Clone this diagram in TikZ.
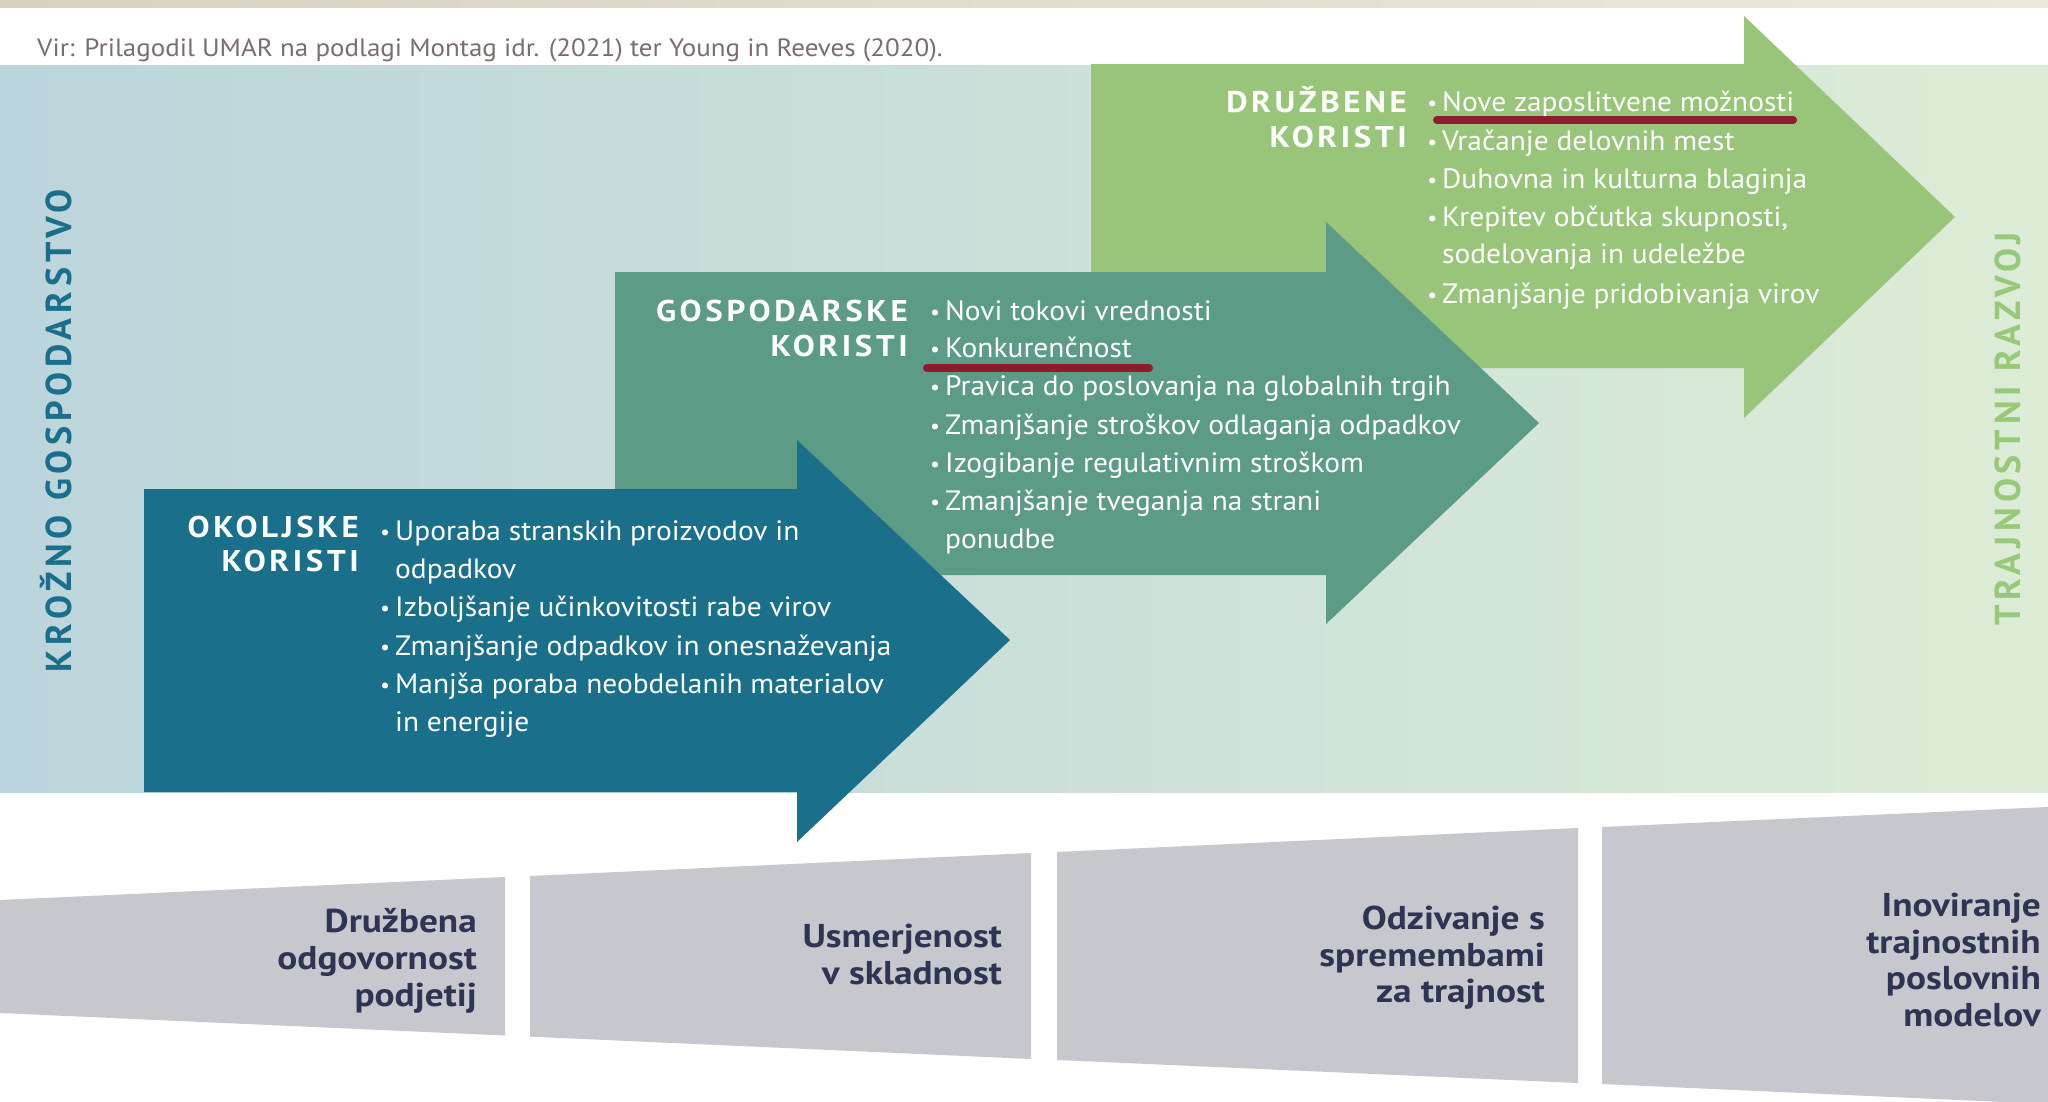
\documentclass[tikz,border=0pt]{standalone}
\usepackage{fontspec}
\setmainfont{PT Sans}
\newfontfamily\bodyf{PT Sans}[FakeStretch=1.05]
\newfontfamily\srcf{PT Sans}[FakeStretch=1.08]
\newfontfamily\botf{PT Sans}[FakeStretch=1.13]
\newfontfamily\titlef{PT Sans}[FakeStretch=1.1,LetterSpace=12]
\newfontfamily\sidef{PT Sans}[LetterSpace=13.5]
\definecolor{bandL}{HTML}{BBD5DC}
\definecolor{bandM}{HTML}{CBE0D9}
\definecolor{bandR}{HTML}{DDECD6}
\definecolor{aTeal}{HTML}{1A6F8B}
\definecolor{aGreen}{HTML}{5C9B86}
\definecolor{aLight}{HTML}{98C57A}
\definecolor{grayT}{HTML}{C6C8CD}
\definecolor{navy}{HTML}{2E3553}
\definecolor{uline}{HTML}{8E1C2E}
\definecolor{srcgray}{HTML}{7A6E6C}
\definecolor{beigeL}{HTML}{DAD1BE}
\definecolor{beigeR}{HTML}{EEE8DC}
\definecolor{sideBlue}{HTML}{1C6F8C}
\definecolor{sideGreen}{HTML}{98C87A}
\newcommand\smbul{\llap{\raisebox{0.1ex}{\scalebox{0.75}{\textbullet}}\hspace{5pt}}}
\begin{document}
\begin{tikzpicture}[x=1pt,y=-1pt,
  titlestyle/.style={font=\titlef\bfseries\fontsize{30}{34}\selectfont,text=white,anchor=mid east,inner sep=0pt},
  bulstyle/.style={font=\bodyf\fontsize{28}{38}\selectfont,text=white,anchor=mid west,inner sep=0pt},
  botstyle/.style={font=\botf\bfseries\fontsize{33}{37}\selectfont,text=navy,anchor=mid east,inner sep=0pt},
  sidestyle/.style={font=\sidef\bfseries\fontsize{36}{40}\selectfont,rotate=90,inner sep=0pt},
  ulinestyle/.style={draw=uline,line width=8pt,line cap=round}]
\useasboundingbox (0,0) rectangle (2048,1101);
\fill[white] (0,0) rectangle (2048,1101);
% top strip
\shade[left color=beigeL,right color=beigeR] (0,0) rectangle (2048,7);
% band
\shade[left color=bandL,right color=bandR,middle color=bandM] (0,65) rectangle (2048,792);
% source
\node[font=\srcf\fontsize{25}{30}\selectfont,text=srcgray,anchor=mid west,inner sep=0pt] (src) at (37,54)
  {Vir: Prilagodil UMAR na podlagi Montag idr. (2021) ter Young in Reeves (2020).};
% arrows (back to front)
\fill[aLight] (1091,64) -- (1744,64) -- (1744,16) -- (1955,217) -- (1744,418) -- (1744,368) -- (1091,368) -- cycle;
\fill[aGreen] (615,272) -- (1326,272) -- (1326,222) -- (1539,423) -- (1326,624) -- (1326,575) -- (615,575) -- cycle;
\fill[aTeal] (144,489) -- (797,489) -- (797,440) -- (1010,640) -- (797,842) -- (797,792) -- (144,792) -- cycle;
% trapezoids
\fill[grayT] (0,900) -- (505,877) -- (505,1035.5) -- (0,1013) -- cycle;
\fill[grayT] (530,876) -- (1031,853) -- (1031,1059) -- (530,1036.6) -- cycle;
\fill[grayT] (1057,852) -- (1578,828) -- (1578,1083) -- (1057,1060) -- cycle;
\fill[grayT] (1602,827) -- (2048,807) -- (2048,1104) -- (1602,1084) -- cycle;
% side labels
\node[sidestyle,text=sideBlue] (kg) at (56,431) {KROŽNO GOSPODARSTVO};
\node[sidestyle,text=sideGreen] (tr) at (2008,429) {TRAJNOSTNI RAZVOJ};
% arrow 1 text
\node[titlestyle] (t1a) at (359,535) {OKOLJSKE};
\node[titlestyle] (t1b) at (359,569) {KORISTI};
\node[bulstyle] (b1a) at (395,538) {\smbul Uporaba stranskih proizvodov in};
\node[bulstyle] (b1b) at (395,576) {odpadkov};
\node[bulstyle] (b1c) at (395,614) {\smbul Izboljšanje učinkovitosti rabe virov};
\node[bulstyle] (b1d) at (395,653) {\smbul Zmanjšanje odpadkov in onesnaževanja};
\node[bulstyle] (b1e) at (395,691) {\smbul Manjša poraba neobdelanih materialov};
\node[bulstyle] (b1f) at (395,729) {in energije};
% arrow 2 text
\node[titlestyle] (t2a) at (908,319) {GOSPODARSKE};
\node[titlestyle] (t2b) at (908,354) {KORISTI};
\node[bulstyle] (b2a) at (945,318) {\smbul Novi tokovi vrednosti};
\node[bulstyle] (b2b) at (945,355) {\smbul Konkurenčnost};
\node[bulstyle] (b2c) at (945,393) {\smbul Pravica do poslovanja na globalnih trgih};
\node[bulstyle] (b2d) at (945,432) {\smbul Zmanjšanje stroškov odlaganja odpadkov};
\node[bulstyle] (b2e) at (945,470) {\smbul Izogibanje regulativnim stroškom};
\node[bulstyle] (b2f) at (945,508) {\smbul Zmanjšanje tveganja na strani};
\node[bulstyle] (b2g) at (945,546) {ponudbe};
% arrow 3 text
\node[titlestyle] (t3a) at (1407,110) {DRUŽBENE};
\node[titlestyle] (t3b) at (1407,145) {KORISTI};
\node[bulstyle] (b3a) at (1442,109) {\smbul Nove zaposlitvene možnosti};
\node[bulstyle] (b3b) at (1442,148) {\smbul Vračanje delovnih mest};
\node[bulstyle] (b3c) at (1442,186) {\smbul Duhovna in kulturna blaginja};
\node[bulstyle] (b3d) at (1442,224) {\smbul Krepitev občutka skupnosti,};
\node[bulstyle] (b3e) at (1442,261) {sodelovanja in udeležbe};
\node[bulstyle] (b3f) at (1442,301) {\smbul Zmanjšanje pridobivanja virov};
% underlines
\coordinate (u1a) at (927,368); \coordinate (u1b) at (1149,368);
\coordinate (u2a) at (1437,120); \coordinate (u2b) at (1793,120);
\draw[ulinestyle] (u1a) -- (u1b);
\draw[ulinestyle] (u2a) -- (u2b);
% bottom texts
\node[botstyle] (d1a) at (477,930) {Družbena};
\node[botstyle] (d1b) at (477,967) {odgovornost};
\node[botstyle] (d1c) at (477,1004) {podjetij};
\node[botstyle] (d2a) at (1002,945) {Usmerjenost};
\node[botstyle] (d2b) at (1002,982) {v skladnost};
\node[botstyle] (d3a) at (1545,927) {Odzivanje s};
\node[botstyle] (d3b) at (1545,964) {spremembami};
\node[botstyle] (d3c) at (1545,1000) {za trajnost};
\node[botstyle] (d4a) at (2041,914) {Inoviranje};
\node[botstyle] (d4b) at (2041,951) {trajnostnih};
\node[botstyle] (d4c) at (2041,987) {poslovnih};
\node[botstyle] (d4d) at (2041,1024) {modelov};
\end{tikzpicture}
\end{document}
